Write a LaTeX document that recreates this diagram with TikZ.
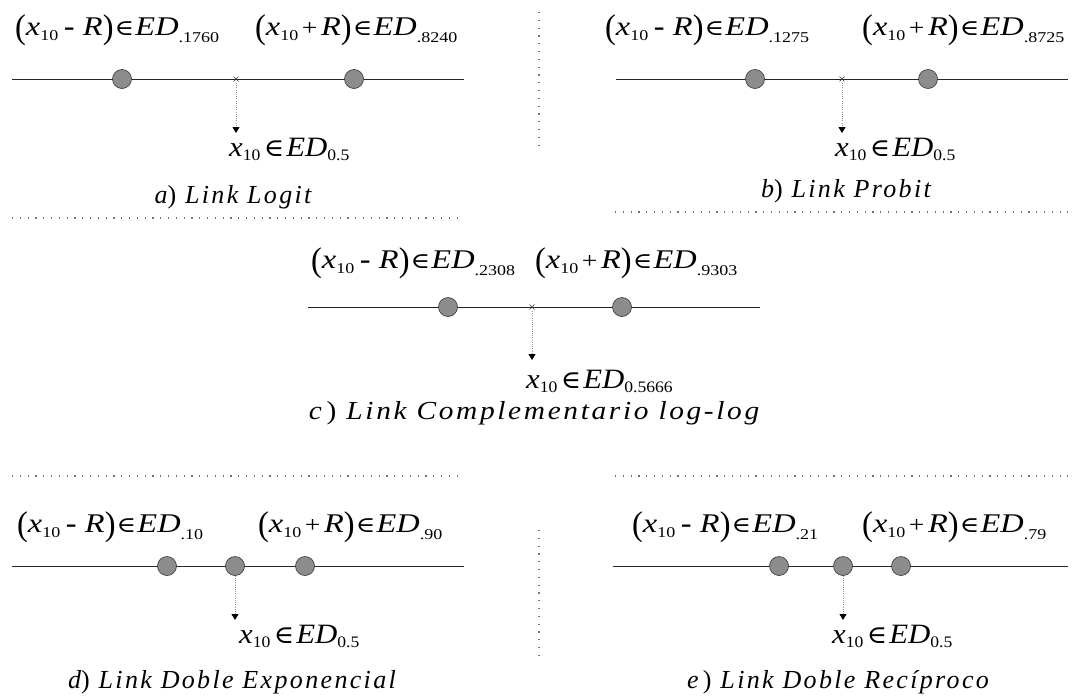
\documentclass[tikz,border=0pt]{standalone}
\usepackage{fontspec}
\setmainfont{Liberation Serif}
\newfontfamily\symf{DejaVu Serif}
\newfontfamily\capf[LetterSpace=9]{Liberation Serif}
\usepackage{graphicx}
\usetikzlibrary{arrows.meta}

\newcommand{\LPar}{\raisebox{-3.5pt}{\scalebox{1}[1.27]{\upshape(}}}
\newcommand{\RPar}{\raisebox{-3.5pt}{\scalebox{1}[1.27]{\upshape)}}}
\newcommand{\TopLab}[2]{\scalebox{1.2}[1]{\fontsize{27}{30}\selectfont
  \LPar\textit{x}\raisebox{-5pt}{\fontsize{15}{15}\selectfont 10}#1\textit{R}\RPar\hspace{1pt}{\symf\fontsize{22}{22}\selectfont ∈}\hspace{1pt}\textit{ED}\raisebox{-7pt}{\fontsize{15}{15}\selectfont .#2}}}
\newcommand{\MinusLab}[1]{\TopLab{\hspace{4.5pt}{\bfseries -}\hspace{7pt}}{#1}}
\newcommand{\PlusLab}[1]{\TopLab{\hspace{3pt}{\fontsize{23}{23}\selectfont +}\hspace{3pt}}{#1}}
\newcommand{\BotLab}[1]{\scalebox{1.1}[1]{\fontsize{28}{30}\selectfont
  \textit{x}\raisebox{-4pt}{\fontsize{16}{16}\selectfont 10}\hspace{3pt}{\symf\fontsize{25}{25}\selectfont ∈}\hspace{2pt}\textit{ED}\raisebox{-4pt}{\fontsize{16}{16}\selectfont #1}}}
\newcommand{\CapLab}[3][1]{\scalebox{#1}[1]{\fontsize{26}{29}\capf\itshape #2\upshape)\itshape\ #3}}

\tikzset{
  axisline/.style={line width=1pt, black!85},
  ball/.style={circle, fill=black!45, draw=black!80, line width=0.6pt, minimum size=19pt, inner sep=0pt},
  sepline/.style={black!55, line width=1.2pt, dash pattern=on 1.2pt off 6.6pt},
  ptr/.style={black!45, line width=0.8pt, dash pattern=on 1pt off 1.2pt, -{Triangle[color=black,width=7pt,length=6pt]}},
  xmark/.style={black!80, line width=0.6pt},
  lab/.style={inner sep=0pt, anchor=base west},
  capn/.style={inner sep=0pt, anchor=base},
}

\begin{document}
\begin{tikzpicture}[x=1pt,y=-1pt]
\useasboundingbox (0,0) rectangle (1081,699);

% ---------- a) Logit ----------
\node[lab] (a1) at (15,35) {\MinusLab{1760}};
\node[lab] (a2) at (255,35) {\PlusLab{8240}};
\coordinate (aL) at (12,79); \coordinate (aR) at (464,79);
\draw[axisline] (aL) -- (aR);
\node[ball] (ac1) at (122,79) {};
\node[ball] (ac2) at (354,79) {};
\coordinate (am) at (236,79);
\draw[xmark] (am) +(-2.5,-2.5) -- +(2.5,2.5) +(-2.5,2.5) -- +(2.5,-2.5);
\coordinate (at) at (236,133);
\draw[ptr] ([yshift=-4pt]am) -- (at);
\node[lab] (ab) at (229,156) {\BotLab{0.5}};
\node[capn] (acap) at (233,203) {\CapLab{a}{Link Logit}};
\coordinate (asL) at (12,218); \coordinate (asR) at (460,218);
\draw[sepline] (asL) -- (asR);

% vertical separator top
\coordinate (v1t) at (539,12); \coordinate (v1b) at (539,146);
\draw[sepline] (v1t) -- (v1b);

% ---------- b) Probit ----------
\node[lab] (b1) at (605,35) {\MinusLab{1275}};
\node[lab] (b2) at (862,35) {\PlusLab{8725}};
\coordinate (bL) at (616,79); \coordinate (bR) at (1068,79);
\draw[axisline] (bL) -- (bR);
\node[ball] (bc1) at (755,79) {};
\node[ball] (bc2) at (928,79) {};
\coordinate (bm) at (842,79);
\draw[xmark] (bm) +(-2.5,-2.5) -- +(2.5,2.5) +(-2.5,2.5) -- +(2.5,-2.5);
\coordinate (bt) at (842,133);
\draw[ptr] ([yshift=-4pt]bm) -- (bt);
\node[lab] (bb) at (835,156) {\BotLab{0.5}};
\node[capn] (bcap) at (846,197) {\CapLab{b}{Link Probit}};
\coordinate (bsL) at (615,212); \coordinate (bsR) at (1068,212);
\draw[sepline] (bsL) -- (bsR);

% ---------- c) Complementario log-log ----------
\node[lab] (c1) at (311,268) {\MinusLab{2308}};
\node[lab] (c2) at (535,268) {\PlusLab{9303}};
\coordinate (cL) at (308,307); \coordinate (cR) at (760,307);
\draw[axisline] (cL) -- (cR);
\node[ball] (cc1) at (448,307) {};
\node[ball] (cc2) at (622,307) {};
\coordinate (cm) at (532,307);
\draw[xmark] (cm) +(-2.5,-2.5) -- +(2.5,2.5) +(-2.5,2.5) -- +(2.5,-2.5);
\coordinate (ct) at (532,360);
\draw[ptr] ([yshift=-4pt]cm) -- (ct);
\node[lab] (cb) at (526,388) {\BotLab{0.5666}};
\node[capn] (ccap) at (534,419) {\CapLab[1.13]{c\,}{Link Complementario log-log}};

% ---------- d) Doble Exponencial ----------
\coordinate (dsL) at (12,476); \coordinate (dsR) at (460,476);
\draw[sepline] (dsL) -- (dsR);
\node[lab] (d1) at (17,532) {\MinusLab{10}};
\node[lab] (d2) at (258,532) {\PlusLab{90}};
\coordinate (dL) at (12,566); \coordinate (dR) at (464,566);
\draw[axisline] (dL) -- (dR);
\node[ball] (dc1) at (167,566) {};
\node[ball] (dc2) at (235,566) {};
\node[ball] (dc3) at (305,566) {};
\coordinate (dt) at (235,620);
\draw[ptr] (dc2.south) -- (dt);
\node[lab] (db) at (239,643) {\BotLab{0.5}};
\node[capn] (dcap) at (232,688) {\CapLab{d}{Link Doble Exponencial}};

% vertical separator bottom
\coordinate (v2t) at (539,530); \coordinate (v2b) at (539,658);
\draw[sepline] (v2t) -- (v2b);

% ---------- e) Doble Reciproco ----------
\coordinate (esL) at (615,476); \coordinate (esR) at (1068,476);
\draw[sepline] (esL) -- (esR);
\node[lab] (e1) at (632,532) {\MinusLab{21}};
\node[lab] (e2) at (862,532) {\PlusLab{79}};
\coordinate (eL) at (613,566); \coordinate (eR) at (1068,566);
\draw[axisline] (eL) -- (eR);
\node[ball] (ec1) at (779,566) {};
\node[ball] (ec2) at (843,566) {};
\node[ball] (ec3) at (901,566) {};
\coordinate (et) at (843,620);
\draw[ptr] (ec2.south) -- (et);
\node[lab] (eb) at (832,643) {\BotLab{0.5}};
\node[capn] (ecap) at (838,688) {\CapLab{e\,}{Link Doble Recíproco}};
\end{tikzpicture}
\end{document}
